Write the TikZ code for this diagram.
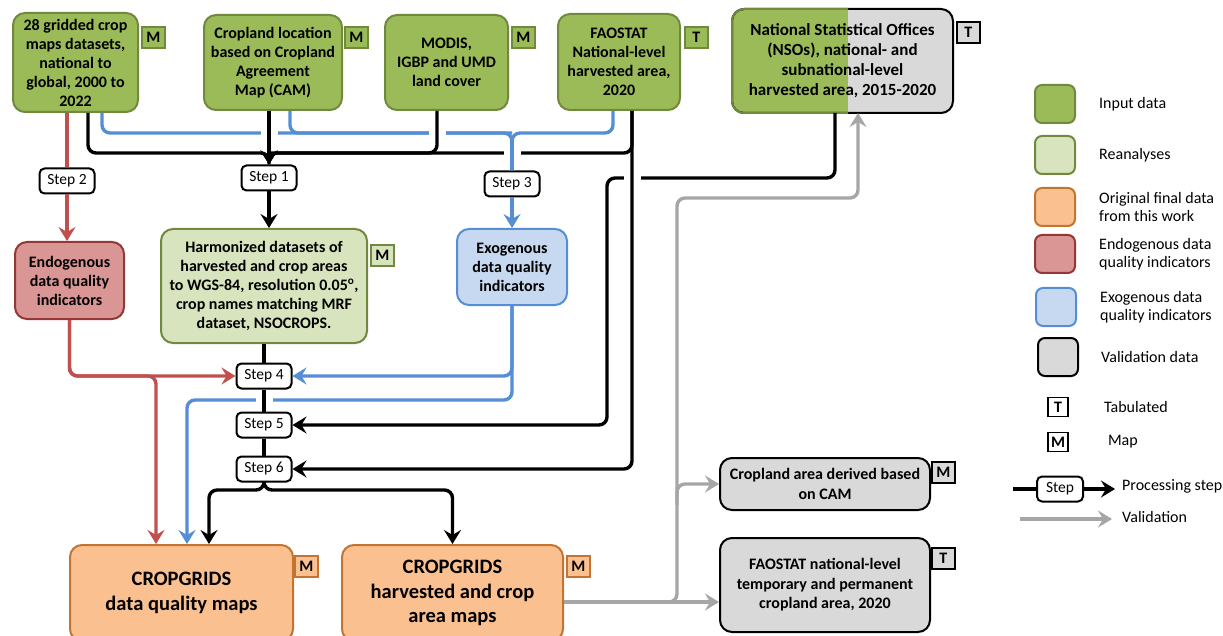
\documentclass[tikz,border=0pt]{standalone}
\usepackage{fontspec}
\setmainfont{Carlito}
\usepackage{xcolor}
\usetikzlibrary{arrows.meta,positioning,calc,backgrounds}
\definecolor{inputgreen}{RGB}{155,187,89}
\definecolor{inputborder}{RGB}{113,137,63}
\definecolor{reagreen}{RGB}{215,228,189}
\definecolor{finalorange}{RGB}{250,192,144}
\definecolor{finalborder}{RGB}{196,116,50}
\definecolor{endored}{RGB}{217,150,148}
\definecolor{endoborder}{RGB}{149,55,53}
\definecolor{exoblue}{RGB}{198,217,241}
\definecolor{exoborder}{RGB}{85,142,213}
\definecolor{valgray}{RGB}{217,217,217}
\definecolor{redarrow}{RGB}{192,80,77}
\definecolor{bluearrow}{RGB}{85,142,213}
\definecolor{grayarrow}{RGB}{166,166,166}
\newcommand{\boxfont}{\fontsize{16}{19}\selectfont\bfseries}
\newcommand{\nsofont}{\fontsize{17}{20}\selectfont\bfseries}
\newcommand{\bigboxfont}{\fontsize{20.5}{24.5}\selectfont\bfseries}
\newcommand{\valfont}{\fontsize{16}{19.5}\selectfont\bfseries}
\newcommand{\stepfont}{\fontsize{15.5}{17}\selectfont}
\newcommand{\tagfont}{\fontsize{16}{17}\selectfont\bfseries}
\newcommand{\legfont}{\fontsize{16}{18.5}\selectfont}

\begin{document}
\begin{tikzpicture}[x=1pt,y=-1pt,>={Stealth[length=14pt,width=17pt,inset=5pt]},
  box/.style={draw,line width=2pt,rounded corners=12pt,align=center,inner sep=2pt,font=\boxfont},
  inbox/.style={box,fill=inputgreen,draw=inputborder},
  reabox/.style={box,fill=reagreen,draw=inputborder},
  finbox/.style={box,fill=finalorange,draw=finalborder,font=\bigboxfont},
  endobox/.style={box,fill=endored,draw=endoborder},
  exobox/.style={box,fill=exoblue,draw=exoborder},
  valbox/.style={box,fill=valgray,draw=black,font=\valfont},
  tagbox/.style={draw,line width=1.7pt,minimum width=23pt,minimum height=21pt,inner sep=0pt,font=\tagfont,anchor=north west},
  stepbox/.style={draw,line width=2pt,fill=white,rounded corners=5pt,minimum width=55pt,minimum height=25pt,inner sep=0pt,font=\stepfont},
  legbox/.style={draw,line width=2pt,rounded corners=7pt,minimum width=40pt,minimum height=38pt},
  legtext/.style={align=left,anchor=west,inner sep=0pt,font=\legfont},
  blkline/.style={line width=3.4pt,black,rounded corners=8pt},
  redline/.style={line width=3.4pt,redarrow,rounded corners=8pt},
  blueline/.style={line width=3.4pt,bluearrow,rounded corners=8pt},
  grayline/.style={line width=3.4pt,grayarrow,rounded corners=8pt},
  bridge/.style={line width=17pt,white}]
\useasboundingbox (0,0) rectangle (1223,636);

% input data
\node[inbox,minimum width=125pt,minimum height=99pt] (gridded) at (75.5,62.5) {28 gridded crop\\maps datasets,\\national to\\global, 2000 to\\2022};
\node[inbox,minimum width=138pt,minimum height=95pt] (cam) at (273,62.5) {Cropland location\\based on Cropland\\Agreement\\Map (CAM)};
\node[inbox,minimum width=123pt,minimum height=95pt] (modis) at (446.5,62.5) {MODIS,\\IGBP and UMD\\land cover};
\node[inbox,minimum width=122pt,minimum height=96pt] (fao) at (619,62) {FAOSTAT\\National-level\\harvested area,\\2020};
\node[box,draw=none,font=\nsofont,minimum width=219pt,minimum height=102pt] (nso) at (842.5,61) {National Statistical Offices\\(NSOs), national- and\\subnational-level\\harvested area, 2015-2020};
\begin{scope}[on background layer]
  \clip[rounded corners=12pt] (nso.south west) rectangle (nso.north east);
  \fill[inputgreen] (nso.south west) rectangle (nso.north -| 848,0);
  \fill[valgray] (nso.south -| 848,0) rectangle (nso.north east);
\end{scope}
\draw[line width=2pt,rounded corners=12pt] (nso.south west) rectangle (nso.north east);
\begin{scope}
  \clip ($(nso.south west)+(-4,4)$) rectangle ($(nso.north -| 848,0)+(0,-4)$);
  \draw[inputborder,line width=2pt,rounded corners=12pt] (nso.south west) rectangle (nso.north east);
\end{scope}

\node[tagbox,fill=inputgreen,draw=inputborder] (griddedtag) at ($(gridded.north east)+(2,14)$) {M};
\node[tagbox,fill=inputgreen,draw=inputborder] (camtag) at ($(cam.north east)+(1,12)$) {M};
\node[tagbox,fill=inputgreen,draw=inputborder] (modistag) at ($(modis.north east)+(2,12)$) {M};
\node[tagbox,fill=inputgreen,draw=inputborder] (faotag) at ($(fao.north east)+(3,13)$) {T};
\node[tagbox,fill=valgray] (nsotag) at ($(nso.north east)+(3,12)$) {T};

% steps
\node[stepbox] (step2) at (67,181) {Step 2};
\node[stepbox] (step1) at (269,178) {Step 1};
\node[stepbox] (step3) at (512,184) {Step 3};
\node[stepbox] (step4) at (264,376) {Step 4};
\node[stepbox,below=22pt of step4] (step5) {Step 5};
\node[stepbox,below=17pt of step5] (step6) {Step 6};

% reanalyses and quality indicators
\node[endobox,minimum width=109pt,minimum height=77pt] (endo) at (69.5,280.5) {Endogenous\\data quality\\indicators};
\node[reabox,minimum width=206pt,minimum height=114pt] (harm) at (264,286) {Harmonized datasets of\\harvested and crop areas\\to WGS-84, resolution 0.05\textsuperscript{o},\\crop names matching MRF\\dataset, NSOCROPS.};
\node[tagbox,fill=reagreen,draw=inputborder] (harmtag) at ($(harm.north east)+(2,16)$) {M};
\node[exobox,minimum width=110pt,minimum height=76pt] (exo) at (512,267) {Exogenous\\data quality\\indicators};

% final data
\node[finbox,minimum width=223pt,minimum height=96pt] (dqmaps) at (181.5,593) {CROPGRIDS\\data quality maps};
\node[tagbox,fill=finalorange,draw=finalborder] (dqtag) at ($(dqmaps.north east)+(0,11)$) {M};
\node[finbox,minimum width=221pt,minimum height=96pt] (hamaps) at (452.5,593) {CROPGRIDS\\harvested and crop\\area maps};
\node[tagbox,fill=finalorange,draw=finalborder] (hatag) at ($(hamaps.north east)+(2,11)$) {M};

% validation data
\node[valbox,minimum width=210pt,minimum height=52pt] (camarea) at (825,484) {Cropland area derived based\\on CAM};
\node[tagbox,fill=valgray] (camareatag) at ($(camarea.north east)+(0,4)$) {M};
\node[valbox,minimum width=210pt,minimum height=94pt] (faoval) at (825,585) {FAOSTAT national-level\\temporary and permanent\\cropland area, 2020};
\node[tagbox,fill=valgray] (faovaltag) at ($(faoval.north east)+(0,10)$) {T};

% blue lines to step 3
\draw[blueline] (gridded.south -| 102,0) |- (step3 |- 0,133) -- (step3.north);
\draw[blueline] (cam.south -| 290,0) |- (step3 |- 0,133);
\draw[blueline] (fao.south -| 613,0) |- (step3 |- 0,133) -- (step3.north);
\draw[blueline,->] (step3.south) -- (step3 |- exo.north);
\draw[bridge] (269,122) -- (269,144);
\draw[bridge] (437,122) -- (437,144);

% black lines to step 1
\draw[blkline,->] (gridded.south -| 88,0) |- (step1 |- 0,153) -- (step1.north);
\draw[blkline] (modis.south -| 437,0) |- (step1 |- 0,153);
\draw[blkline] (fao.south -| 632,0) |- (step1 |- 0,153) -- (step1.north);
\draw[blkline,->] (step1 |- cam.south) -- (step1.north);
\draw[bridge] (512,146) -- (512,160);
\draw[blueline] (step3 |- 0,140) -- (step3.north);
\draw[blkline,->] (step1.south) -- (step1 |- harm.north);

% black lines to steps 5 and 6
\draw[blkline,->] (nso.south -| 835,0) |- (607,178) |- (step5.east);
\draw[bridge] (632,170) -- (632,186);
\draw[blkline,->] (fao.south -| 632,0) |- (step6.east);

% red lines
\draw[redline] (step2 |- gridded.south) -- (step2.north);
\draw[redline,->] (step2.south) -- (step2 |- endo.north);
\draw[redline,->] (endo.south) |- (step4.west);
\draw[redline,->] (endo.south) |- (156,376) -- (dqmaps.north -| 156,0);

% blue lines from exogenous
\draw[blueline,->] (exo.south) |- (step4.east);
\draw[blueline,->] (exo.south) |- (187,400) -- (dqmaps.north -| 187,0);

% processing chain
\draw[bridge] (264,393) -- (264,407);
\draw[blkline] (step4 |- harm.south) -- (step4.north);
\draw[blkline] (step4.south) -- (step5.north);
\draw[blkline] (step5.south) -- (step6.north);
\draw[blkline,->] (step6.south) |- (209,490) -- (dqmaps.north -| 209,0);
\draw[blkline,->] (step6.south) |- (hamaps.north |- 0,490) -- (hamaps.north);

% validation
\coordinate (valfork) at (677,505);
\draw[grayline,->] (hamaps.east |- 0,602) -| (677,198) -| (nso.south -| 858,0);
\draw[grayline,->] (hamaps.east |- 0,602) -- (faoval.west |- 0,602);
\draw[grayline,->] (valfork) |- (camarea.west);

% legend
\node[legbox,fill=inputgreen,draw=inputborder] (leginput) at (1055,104) {};
\node[legtext,right=23pt of leginput] (leginputtxt) {Input data};
\node[legbox,fill=reagreen,draw=inputborder] (legrea) at (1055,155) {};
\node[legtext,right=23pt of legrea] (legreatxt) {Reanalyses};
\node[legbox,fill=finalorange,draw=finalborder] (legfinal) at (1055,207) {};
\node[legtext,right=23pt of legfinal] (legfinaltxt) {Original final data\\from this work};
\node[legbox,fill=endored,draw=endoborder] (legendo) at (1055,254) {};
\node[legtext,right=23pt of legendo] (legendotxt) {Endogenous data\\quality indicators};
\node[legbox,fill=exoblue,draw=exoborder] (legexo) at (1056,307) {};
\node[legtext,right=23pt of legexo] (legexotxt) {Exogenous data\\quality indicators};
\node[legbox,fill=valgray] (legval) at (1058,357) {};
\node[legtext,right=22pt of legval] (legvaltxt) {Validation data};
\node[tagbox,anchor=center,minimum width=20pt,minimum height=19pt] (legt) at (1058,407) {T};
\node[legtext,right=35pt of legt] (legttxt) {Tabulated};
\node[tagbox,anchor=center,minimum width=20pt,minimum height=19pt] (legm) at (1058,442) {M};
\node[legtext,right=39pt of legm] (legmtxt) {Map};
\node[stepbox,minimum width=46pt] (legstep) at (1060,489) {Step};
\coordinate (legstepin) at (1013,489);
\coordinate (legstepout) at (1115,489);
\draw[blkline] (legstepin) -- (legstep.west);
\draw[blkline,->] (legstep.east) -- (legstepout);
\node[legtext] (legsteptxt) at (1122,486) {Processing step};
\coordinate (legvalin) at (1020,519);
\coordinate (legvalout) at (1112,519);
\draw[grayline,->] (legvalin) -- (legvalout);
\node[legtext] (legvalarrtxt) at (1122,517) {Validation};
\end{tikzpicture}
\end{document}
